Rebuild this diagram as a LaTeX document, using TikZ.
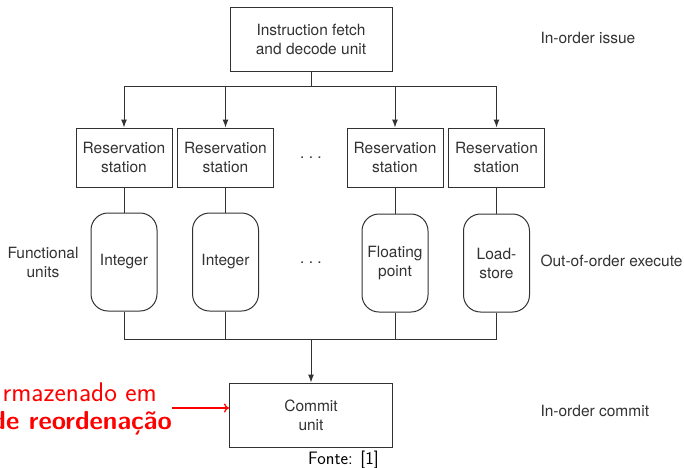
\documentclass[tikz,border=0pt]{standalone}
\usepackage{fontspec}
\setmainfont{TeX Gyre Heros}
\usepackage{tikz}
\usetikzlibrary{arrows.meta,positioning}

\definecolor{ink}{RGB}{50,50,50}

\begin{document}
\begin{tikzpicture}[x=1pt, y=-1pt,
    every node/.style={text=ink, font=\fontsize{15.5}{19}\selectfont},
    box/.style={draw=ink, line width=1pt, align=center, inner sep=0pt},
    station/.style={box, minimum width=96pt, minimum height=59pt},
    unit/.style={box, rounded corners=17pt, minimum width=66pt, minimum height=98pt},
    wire/.style={draw=ink, line width=1pt},
    feed/.style={wire, -{Latex[length=8pt, width=6pt]}},
    stage/.style={anchor=west, align=left}]
    \useasboundingbox (0,0) rectangle (684,467);
    \begin{scope}
        \clip (0,0) rectangle (684,467);
        % issue
        \node[box, minimum width=162pt, minimum height=64pt] (fetch) at (311,39) {Instruction fetch\\and decode unit};
        \node[station] (rs1) at (124,157.5) {Reservation\\station};
        \node[station] (rs2) at (225.5,157.5) {Reservation\\station};
        \node[station] (rs3) at (395,157.5) {Reservation\\station};
        \node[station] (rs4) at (496.5,157.5) {Reservation\\station};
        \node (dots1) at (311,158) {.\ .\ .};
        % execute
        \node[unit] (fu1) at (124,262) {Integer};
        \node[unit] (fu2) at (225.5,262) {Integer};
        \node[unit] (fu3) at (395,263) {Floating\\point};
        \node[unit] (fu4) at (496.5,263) {Load-\\store};
        \node (dots2) at (311,263) {.\ .\ .};
        % commit
        \node[box, minimum width=163pt, minimum height=64pt] (commit) at (311,415) {Commit\\unit};
        \coordinate (issue) at (311,86);
        \coordinate (retire) at (311,339);

        \path[wire] (fetch) -- (issue);
        \foreach \s in {rs1,rs2,rs3,rs4}
            \path[feed] (issue) -| (\s.north);
        \foreach \n in {1,2,3,4} {
            \path[wire] (rs\n) -- (fu\n);
            \path[wire] (fu\n.south) |- (retire);
        }
        \path[feed] (retire) -- (commit);

        % stage names
        \node[stage] (lissue) at (537,38) {In-order issue};
        \node[stage] (lexec) at (537,261) {Out-of-order execute};
        \node[stage] (lcommit) at (537,411) {In-order commit};
        \node[align=center] (lunits) at (43,262) {Functional\\units};

        % note on the commit stage
        \node[anchor=east, inner sep=0pt, text=red, font=\sffamily\fontsize{27}{32}\selectfont] (note1) at (157,392) {rmazenado em};
        \node[anchor=east, inner sep=0pt, text=red, font=\sffamily\bfseries\fontsize{26}{31}\selectfont] (note2) at (172,423) {de reordenação};
        \coordinate (from) at (172,408);
        \draw[red, line width=1.3pt, -{To[length=5pt, width=9pt]}] (from) -- (from -| commit.west);

        \node[anchor=base west, inner sep=0pt, text=black, font=\sffamily\fontsize{18}{22}\selectfont] (source) at (308,464) {Fonte: [1]};
    \end{scope}
\end{tikzpicture}
\end{document}
